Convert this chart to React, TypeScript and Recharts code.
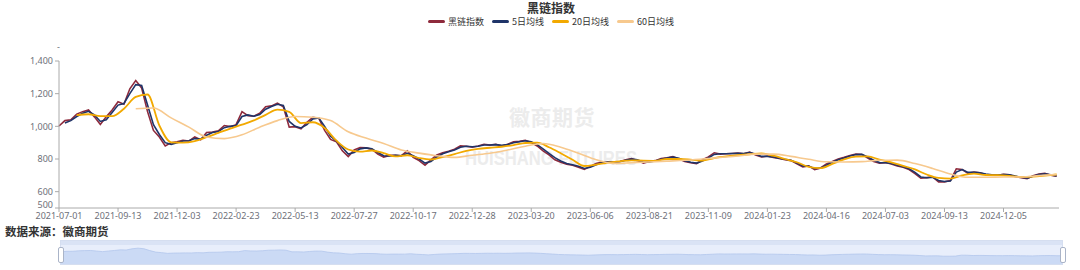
import React from 'react';
import { LineChart, Line, XAxis, YAxis, AreaChart, Area } from 'recharts';

// x-axis labels, one every 10 sample points
const TICK_LABELS = [
  '2021-07-01', '2021-09-13', '2021-12-03', '2022-02-23', '2022-05-13', '2022-07-27',
  '2022-10-17', '2022-12-28', '2023-03-20', '2023-06-06', '2023-08-21', '2023-11-09',
  '2024-01-23', '2024-04-16', '2024-07-03', '2024-09-13', '2024-12-05',
];
const POINTS_PER_LABEL = 10;
const Y_TICKS = [500, 600, 800, 1000, 1200, 1400];

// 黑链指数, sampled every ~5 trading days
const INDEX = [
  1002, 1035, 1040, 1075, 1090, 1100, 1058, 1012, 1058, 1100,
  1150, 1135, 1230, 1280, 1235, 1090, 975, 935, 880, 900,
  905, 915, 910, 935, 918, 962, 965, 972, 1005, 998,
  1010, 1090, 1065, 1062, 1080, 1120, 1125, 1142, 1120, 995,
  998, 985, 1025, 1055, 1050, 975, 920, 905, 850, 815,
  855, 870, 868, 860, 830, 812, 822, 822, 820, 850,
  810, 790, 762, 795, 825, 838, 848, 860, 880, 878,
  872, 880, 890, 885, 890, 880, 890, 905, 908, 915,
  900, 880, 850, 825, 795, 780, 768, 762, 750, 736,
  755, 772, 782, 782, 778, 785, 795, 803, 790, 775,
  785, 790, 803, 808, 815, 800, 785, 778, 772, 795,
  813, 838, 830, 832, 834, 836, 832, 842, 825, 812,
  818, 810, 803, 795, 790, 770, 752, 758, 735, 745,
  770, 785, 800, 810, 822, 830, 828, 805, 785, 775,
  778, 770, 758, 750, 735, 711, 682, 686, 690, 660,
  660, 668, 740, 735, 712, 720, 715, 705, 702, 701,
  706, 704, 692, 686, 680, 698, 708, 712, 700, 694,
];

// 5日均线, same grid, starts at point 1
const MA5_START = 1;
const MA5 = [
  1020, 1035, 1060, 1080, 1092, 1070, 1030, 1040, 1085,
  1130, 1140, 1200, 1255, 1250, 1130, 1010, 950, 900, 890,
  900, 910, 912, 925, 922, 945, 962, 968, 992, 1000,
  1005, 1060, 1070, 1062, 1072, 1105, 1122, 1135, 1128, 1030,
  1000, 990, 1010, 1045, 1052, 1000, 940, 910, 870, 830,
  840, 862, 868, 862, 840, 820, 818, 822, 820, 835,
  820, 800, 775, 785, 812, 832, 845, 855, 872, 878,
  875, 878, 886, 886, 888, 884, 888, 900, 906, 912,
  905, 888, 862, 835, 808, 788, 772, 765, 755, 742,
  750, 765, 778, 782, 780, 783, 792, 800, 795, 780,
  782, 788, 798, 806, 812, 805, 790, 780, 775, 788,
  806, 828, 832, 832, 834, 835, 833, 840, 830, 816,
  816, 812, 805, 798, 792, 776, 758, 756, 742, 744,
  762, 780, 795, 806, 818, 827, 828, 812, 792, 778,
  777, 772, 762, 752, 740, 718, 690, 685, 688, 668,
  662, 665, 720, 735, 718, 718, 716, 708, 703, 701,
  705, 704, 695, 688, 682, 694, 705, 710, 703, 696,
];

// 20日均线, every 2nd point from point 3
const MA20_START = 3;
const MA20_STEP = 2;
const MA20 = [
  1068, 1074, 1062, 1062, 1108, 1180, 1195, 1005, 902, 900,
  910, 934, 960, 986, 1010, 1036, 1070, 1102, 1088, 1020,
  1025, 990, 912, 858, 845, 852, 836, 816, 823, 806,
  797, 812, 830, 850, 862, 869, 875, 885, 898, 900,
  872, 835, 795, 757, 766, 778, 786, 792, 790, 789,
  800, 800, 796, 790, 806, 816, 823, 829, 834, 820,
  800, 780, 752, 744, 770, 798, 815, 816, 796, 780,
  758, 736, 705, 684, 680, 700, 710, 702, 701, 697,
  690, 692, 698, 705,
];

// 60日均线, every 3rd point from point 13
const MA60_START = 13;
const MA60_STEP = 3;
const MA60 = [
  1108, 1112, 1052, 995, 935, 925, 948, 995, 1035, 1060,
  1056, 1035, 967, 928, 895, 855, 836, 820, 810, 823,
  835, 855, 878, 895, 872, 835, 796, 773, 777, 782,
  787, 792, 800, 809, 818, 830, 830, 816, 798, 783,
  782, 784, 792, 793, 772, 742, 708, 688, 688, 690,
  690, 698, 705,
];

const SERIES = [
  { name: '黑链指数', color: '#8e2a3c' },
  { name: '5日均线', color: '#1f3468' },
  { name: '20日均线', color: '#f2a900' },
  { name: '60日均线', color: '#f7c98e' },
];

const toRows = (vals: number[], start: number, step: number) =>
  vals.map((v, k) => ({ i: start + k * step, v }));

const indexRows = toRows(INDEX, 0, 1);
const ma5Rows = toRows(MA5, MA5_START, 1);
const ma20Rows = toRows(MA20, MA20_START, MA20_STEP);
const ma60Rows = toRows(MA60, MA60_START, MA60_STEP);
const xTicks = TICK_LABELS.map((_, k) => k * POINTS_PER_LABEL);

const tickStyle = { fill: '#6e7079', fontSize: 9, fontFamily: 'Noto Sans' };
const cjk = '"Noto Sans CJK SC", sans-serif';

// y tick: the bottom label sits a little higher so it clears the dates
const YTick = (props: any) => {
  const { x, y, payload } = props;
  const lift = payload.value === Y_TICKS[0] ? 3 : 0;
  return (
    <text x={x} y={y - lift} dy="0.355em" textAnchor="end" {...tickStyle}>
      {Number(payload.value).toLocaleString('en-US')}
    </text>
  );
};

export default function App() {
  return (
    <div style={{ position: 'absolute', left: 0, top: 0, width: 1080, height: 270, background: '#fff', overflow: 'hidden' }}>
      {/* title */}
      <div style={{ position: 'absolute', left: 0, width: 1102, top: 0, textAlign: 'center', fontFamily: cjk, fontWeight: 700, fontSize: 12, color: '#333', lineHeight: '16px' }}>
        黑链指数
      </div>
      {/* legend */}
      <div style={{ position: 'absolute', left: 0, width: 1102, top: 15, display: 'flex', justifyContent: 'center', gap: 8, fontFamily: cjk, fontSize: 9, color: '#333', lineHeight: '13px' }}>
        {SERIES.map(s => (
          <div key={s.name} style={{ display: 'flex', alignItems: 'center', gap: 3 }}>
            <span style={{ display: 'inline-block', width: 17, height: 3, borderRadius: 2, background: s.color }} />
            <span>{s.name}</span>
          </div>
        ))}
      </div>

      {/* watermark */}
      <div style={{ position: 'absolute', left: 509, top: 101, fontFamily: cjk, fontWeight: 700, fontSize: 21, color: '#ececec', letterSpacing: 0.5 }}>
        徽商期货
      </div>
      <svg style={{ position: 'absolute', left: 0, top: 0 }} width={1080} height={270}>
        <text x={465} y={165} textLength={172} lengthAdjust="spacingAndGlyphs" fontFamily="Liberation Sans Narrow, Liberation Sans" fontWeight={700} fontSize={21} fill="#ececec">
          HUISHANG FUTURES
        </text>
      </svg>

      <div style={{ position: 'absolute', left: 0, top: 0 }}>
        <LineChart width={1080} height={236} margin={{ top: 61, right: 21, bottom: 0, left: 0 }}>
          <XAxis
            type="number"
            dataKey="i"
            domain={[0, 169.4]}
            ticks={xTicks}
            interval={0}
            tickFormatter={(v: number) => TICK_LABELS[Math.round(v / POINTS_PER_LABEL)]}
            height={28}
            tickSize={4}
            tickMargin={1}
            stroke="#aaa"
            tick={tickStyle}
          />
          <YAxis
            type="number"
            domain={[500, 1400]}
            ticks={Y_TICKS}
            interval={0}
            width={59}
            tickSize={4}
            tickMargin={2}
            stroke="#aaa"
            tick={<YTick />}
          />
          <Line data={indexRows} dataKey="v" name="黑链指数" stroke={SERIES[0].color} strokeWidth={1.6} dot={false} isAnimationActive={false} />
          <Line data={ma5Rows} dataKey="v" name="5日均线" stroke={SERIES[1].color} strokeWidth={1.6} dot={false} isAnimationActive={false} />
          <Line data={ma20Rows} dataKey="v" name="20日均线" type="monotone" stroke={SERIES[2].color} strokeWidth={1.8} dot={false} isAnimationActive={false} />
          <Line data={ma60Rows} dataKey="v" name="60日均线" type="monotone" stroke={SERIES[3].color} strokeWidth={1.6} dot={false} isAnimationActive={false} />
        </LineChart>
      </div>
      {/* y axis name */}
      <div style={{ position: 'absolute', left: 57, top: 40, fontFamily: 'Noto Sans', fontSize: 9, color: '#6e7079' }}>-</div>

      {/* source */}
      <div style={{ position: 'absolute', left: 5, top: 225, fontFamily: cjk, fontWeight: 700, fontSize: 11.5, color: '#333', lineHeight: '12px' }}>
        数据来源：徽商期货
      </div>

      {/* data zoom slider */}
      <div style={{ position: 'absolute', left: 60, top: 240, width: 1003, height: 25, background: '#e8eefb', boxSizing: 'border-box', border: '1px solid #d5def0' }}>
        <div style={{ position: 'absolute', left: 0, top: 0, right: 0, height: 4, background: '#dae3f5' }} />
        <div style={{ position: 'absolute', left: 0, top: 3 }}>
          <AreaChart width={1001} height={20} data={indexRows} margin={{ top: 0, right: 0, bottom: 0, left: 0 }}>
            <XAxis type="number" dataKey="i" domain={[0, 169]} hide />
            <YAxis domain={[60, 1600]} hide />
            <Area dataKey="v" stroke="#b3c6ec" strokeWidth={0.8} fill="#cbdaf5" fillOpacity={1} isAnimationActive={false} />
          </AreaChart>
        </div>
      </div>
      <div style={{ position: 'absolute', left: 58, top: 247, width: 4, height: 14, background: '#fff', border: '1px solid #aab4c8', borderRadius: 2 }} />
      <div style={{ position: 'absolute', left: 1060, top: 247, width: 4, height: 14, background: '#fff', border: '1px solid #aab4c8', borderRadius: 2 }} />
    </div>
  );
}
